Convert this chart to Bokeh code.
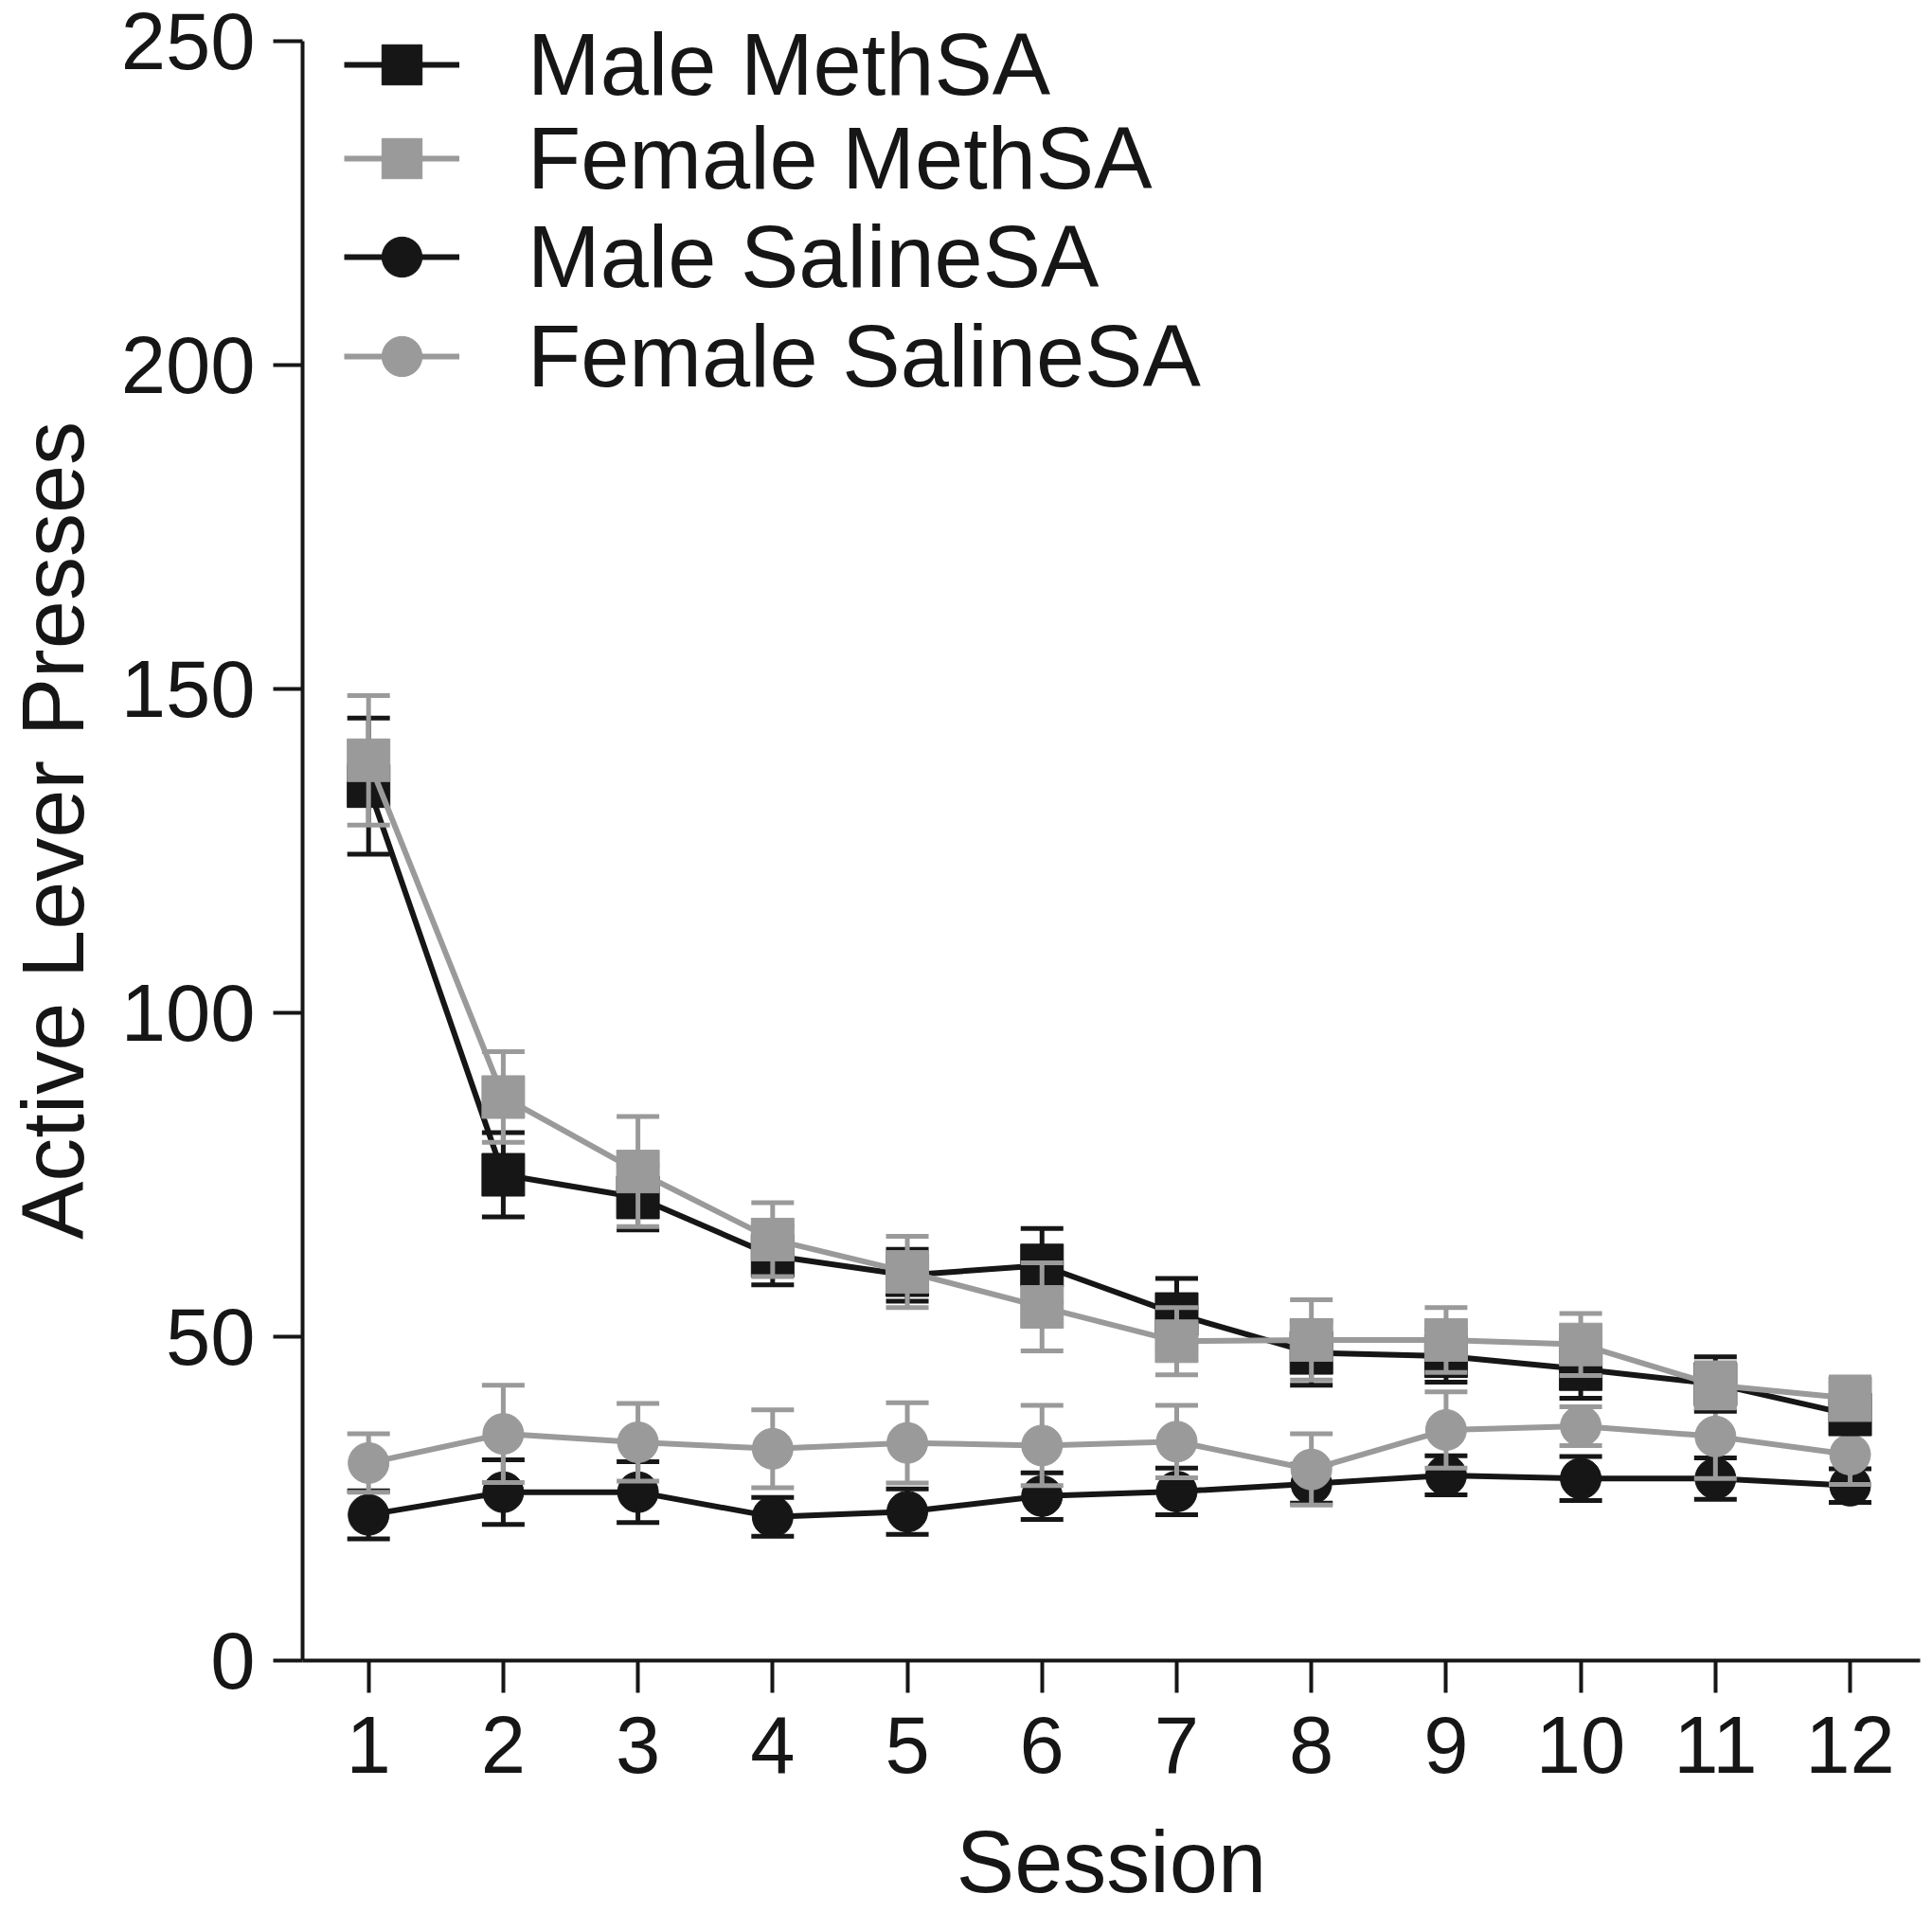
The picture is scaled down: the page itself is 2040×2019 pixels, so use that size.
from bokeh.plotting import figure
from bokeh.models import FixedTicker, Legend, LegendItem
from bokeh.embed import file_html
from bokeh.resources import INLINE

sessions = [1, 2, 3, 4, 5, 6, 7, 8, 9, 10, 11, 12]
male_meth = [135, 75, 71.5, 62.5, 59.5, 61, 53.5, 47.5, 47, 45, 42.7, 38]
male_meth_sem = [10.5, 6.5, 5, 4.5, 4, 5.7, 5.5, 5, 4, 4.5, 4.2, 2]
female_meth = [139, 87, 75.5, 65, 60, 54.6, 49.3, 49.5, 49.5, 48.8, 42.5, 40.5]
female_meth_sem = [10, 7, 8.5, 5.7, 5.5, 6.8, 5.2, 6.2, 5, 4.8, 3.5, 3.3]
male_sal = [22.5, 26, 26, 22.2, 23, 25.4, 26.1, 27.3, 28.6, 28.1, 28.1, 27]
male_sal_sem = [3.7, 5, 4.7, 3, 3.5, 3.6, 3.6, 3, 3, 3.4, 3.2, 2.6]
female_sal = [30.5, 35, 33.7, 32.7, 33.6, 33.2, 33.8, 29.5, 35.6, 36.2, 34.6, 31.8]
female_sal_sem = [4.5, 7.5, 6, 6, 6.2, 6.2, 5.6, 5.5, 5.9, 3, 6.5, 4.6]
y_ticks = [0, 50, 100, 150, 200, 250]
labels = ["Male MethSA", "Female MethSA", "Male SalineSA", "Female SalineSA"]

BLACK = "#161616"
GRAY = "#9a9a9a"
FONT = "Liberation Sans"

p = figure(width=2040, height=2019, x_range=(0.51, 12.52), y_range=(0, 256.3),
           output_backend="svg", toolbar_location=None,
           min_border_left=319, min_border_right=13, min_border_top=0,
           min_border_bottom=265)
p.grid.visible = False
p.outline_line_color = None
p.background_fill_color = "white"

p.xaxis.ticker = FixedTicker(ticks=sessions)
p.yaxis.ticker = FixedTicker(ticks=y_ticks)
p.yaxis.bounds = (0, 250)
for ax in (p.xaxis[0], p.yaxis[0]):
    ax.axis_line_width = 4
    ax.axis_line_color = BLACK
    ax.major_tick_line_width = 4
    ax.major_tick_line_color = BLACK
    ax.minor_tick_line_color = None
    ax.major_tick_in = 0
    ax.major_label_text_font = FONT
    ax.major_label_text_font_size = "85px"
    ax.major_label_text_color = BLACK
    ax.axis_label_text_font = FONT
    ax.axis_label_text_font_size = "92px"
    ax.axis_label_text_font_style = "normal"
    ax.axis_label_text_color = BLACK
p.xaxis.major_tick_out = 34
p.yaxis.major_tick_out = 31
p.xaxis.major_label_standoff = 25
p.yaxis.major_label_standoff = 19
p.xaxis.axis_label = "Session"
p.yaxis.axis_label = "Active Lever Presses"
p.xaxis.axis_label_standoff = 40
p.yaxis.axis_label_standoff = 18


def series(vals, sem, color, marker, msize):
    lo = [v - s for v, s in zip(vals, sem)]
    hi = [v + s for v, s in zip(vals, sem)]
    ln = p.line(sessions, vals, line_width=6, line_color=color)
    p.segment(x0=sessions, y0=lo, x1=sessions, y1=hi, line_width=5, line_color=color)
    p.scatter(sessions, hi, marker="dash", size=45, line_width=5, line_color=color)
    p.scatter(sessions, lo, marker="dash", size=45, line_width=5, line_color=color)
    mk = p.scatter(sessions, vals, marker=marker, size=msize, fill_color=color,
                   line_color=color, line_width=1)
    return ln, mk


r_ms = series(male_sal, male_sal_sem, BLACK, "circle", 43)
r_fs = series(female_sal, female_sal_sem, GRAY, "circle", 43)
r_mm = series(male_meth, male_meth_sem, BLACK, "square", 45)
r_fm = series(female_meth, female_meth_sem, GRAY, "square", 45)

# one legend per entry so that the row pitch matches the reference
entries = [(labels[0], r_mm, 1632), (labels[1], r_fm, 1533),
           (labels[2], r_ms, 1429), (labels[3], r_fs, 1324)]
for lab, rends, vy in entries:
    lg = Legend(items=[LegendItem(label=lab, renderers=list(rends))],
                location=(44, vy), glyph_width=122, glyph_height=106,
                label_standoff=72, spacing=0, padding=0, margin=0,
                border_line_alpha=0, background_fill_alpha=0,
                label_text_font=FONT, label_text_font_size="92px",
                label_text_color=BLACK, label_text_baseline="middle")
    p.add_layout(lg)

open("out.html", "w").write(file_html(p, INLINE))
